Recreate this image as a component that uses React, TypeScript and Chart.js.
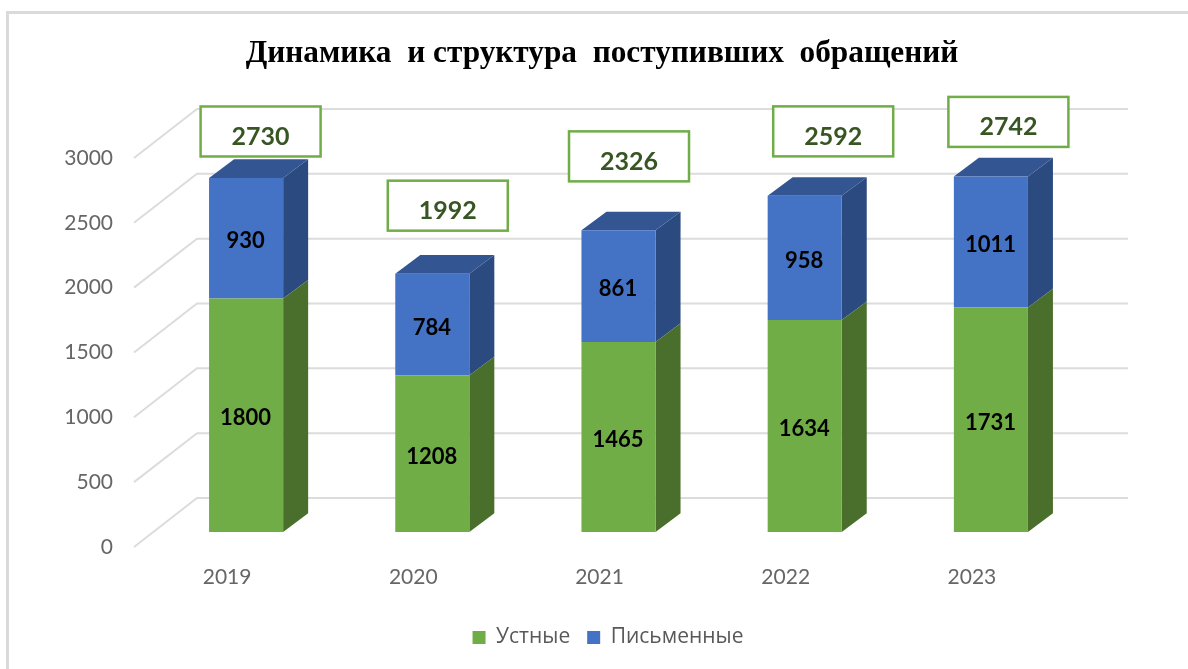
import React, { useEffect, useRef } from "react";
import { Chart, registerables } from "chart.js";

Chart.register(...registerables);

const categories = ["2019", "2020", "2021", "2022", "2023"];
const oralValues = [1800, 1208, 1465, 1634, 1731];
const writtenValues = [930, 784, 861, 958, 1011];
const totalValues = [2730, 1992, 2326, 2592, 2742];

// Callout placement relative to the top of each column (the reference places them by hand).
const calloutShiftX = [14.5, 15.5, 10.5, 28.5, 17.5];
const calloutShiftY = [-46.5, -68, -74, -64.5, -54.5];

// Oblique projection of the 3D chart
const WALL_DX = 63;
const WALL_DY = -49;
const BAR_OFFSET_X = 19;
const BAR_OFFSET_Y = -15;
const BAR_DEPTH_X = 25;
const BAR_DEPTH_Y = -18.7;
const LEGEND_SHIFT = 6;

const frontColors = ["#70AD47", "#4472C4"];
const sideColors = ["#4A6F2C", "#2B4A80"];
const TOP_COLOR = "#335591";
const TOP_DATASET = 1;

const LABEL_FONT = "Lato";

const bar3d = {
  id: "bar3d",
  afterLayout(chart: any) {
    chart.legend.left += LEGEND_SHIFT;
    chart.legend.right += LEGEND_SHIFT;
  },
  beforeDatasetsDraw(chart: any) {
    const { ctx, chartArea, scales } = chart;
    const y = scales.y;
    ctx.save();
    ctx.strokeStyle = "#DCDCDC";
    ctx.lineWidth = 2;
    y.ticks.forEach((t: any) => {
      const py = y.getPixelForValue(t.value);
      ctx.beginPath();
      ctx.moveTo(chartArea.left, py);
      ctx.lineTo(chartArea.left + WALL_DX, py + WALL_DY);
      ctx.lineTo(chartArea.right + WALL_DX, py + WALL_DY);
      ctx.stroke();
    });
    ctx.restore();
  },
  beforeDatasetDraw(chart: any, args: any) {
    const { ctx } = chart;
    const idx = args.index;
    const meta = chart.getDatasetMeta(idx);
    ctx.save();
    ctx.translate(BAR_OFFSET_X, BAR_OFFSET_Y);
    meta.data.forEach((bar: any) => {
      const p = bar.getProps(["x", "y", "base", "width"], true);
      const right = p.x + p.width / 2;
      const left = p.x - p.width / 2;
      ctx.fillStyle = sideColors[idx];
      ctx.beginPath();
      ctx.moveTo(right, p.base);
      ctx.lineTo(right + BAR_DEPTH_X, p.base + BAR_DEPTH_Y);
      ctx.lineTo(right + BAR_DEPTH_X, p.y + BAR_DEPTH_Y);
      ctx.lineTo(right, p.y);
      ctx.closePath();
      ctx.fill();
      if (idx === TOP_DATASET) {
        ctx.fillStyle = TOP_COLOR;
        ctx.beginPath();
        ctx.moveTo(left, p.y);
        ctx.lineTo(left + BAR_DEPTH_X, p.y + BAR_DEPTH_Y);
        ctx.lineTo(right + BAR_DEPTH_X, p.y + BAR_DEPTH_Y);
        ctx.lineTo(right, p.y);
        ctx.closePath();
        ctx.fill();
      }
    });
  },
  afterDatasetDraw(chart: any) {
    chart.ctx.restore();
  },
  afterDatasetsDraw(chart: any) {
    const { ctx } = chart;
    ctx.save();
    ctx.textAlign = "center";
    ctx.textBaseline = "middle";
    ctx.font = `bold 22px ${LABEL_FONT}`;
    ctx.fillStyle = "#000000";
    [0, 1].forEach((idx) => {
      chart.getDatasetMeta(idx).data.forEach((bar: any, i: number) => {
        const p = bar.getProps(["x", "y", "base"], true);
        const value = chart.data.datasets[idx].data[i];
        ctx.fillText(String(value), p.x + BAR_OFFSET_X - 0.5, (p.y + p.base) / 2 + BAR_OFFSET_Y + 3);
      });
    });
    const boxW = 120;
    const boxH = 50;
    chart.getDatasetMeta(1).data.forEach((bar: any, i: number) => {
      const p = bar.getProps(["x", "y"], true);
      const cx = p.x + BAR_OFFSET_X + calloutShiftX[i];
      const cy = p.y + BAR_OFFSET_Y + calloutShiftY[i];
      ctx.fillStyle = "#FFFFFF";
      ctx.strokeStyle = "#70AD47";
      ctx.lineWidth = 2.5;
      ctx.fillRect(cx - boxW / 2, cy - boxH / 2, boxW, boxH);
      ctx.strokeRect(cx - boxW / 2, cy - boxH / 2, boxW, boxH);
      ctx.fillStyle = "#375623";
      ctx.font = `bold 25px ${LABEL_FONT}`;
      ctx.fillText(String(totalValues[i]), cx, cy + 5.5);
    });
    ctx.restore();
  },
};

export default function App() {
  const ref = useRef<HTMLCanvasElement>(null);
  useEffect(() => {
    if (!ref.current) return;
    const chart = new Chart(ref.current, {
      type: "bar",
      plugins: [bar3d],
      data: {
        labels: categories,
        datasets: [
          { label: "Устные", data: oralValues, backgroundColor: frontColors[0], stack: "a", yAxisID: "y" },
          { label: "Письменные", data: writtenValues, backgroundColor: frontColors[1], stack: "a", yAxisID: "y" },
        ],
      },
      options: {
        responsive: false,
        animation: false,
        events: [],
        layout: { padding: { left: 16, right: 0, top: 0, bottom: 11 } },
        datasets: { bar: { categoryPercentage: 1, barPercentage: 74 / 186 } },
        plugins: {
          tooltip: { enabled: false },
          title: {
            display: true,
            text: "Динамика  и структура  поступивших  обращений",
            color: "#000000",
            font: { family: "Liberation Serif", size: 31.3, weight: "bold", lineHeight: 1.2 },
            padding: { top: 35.2, bottom: 85.2 },
          },
          legend: {
            position: "bottom",
            labels: {
              color: "#595959",
              boxWidth: 13,
              boxHeight: 13,
              padding: 17,
              font: { family: "Open Sans", size: 21 },
            },
          },
        },
        scales: {
          x: {
            stacked: true,
            grid: { display: false, drawTicks: false },
            border: { display: false },
            ticks: { color: "#666666", padding: 18, font: { family: LABEL_FONT, size: 21 }, maxRotation: 0 },
            afterFit: (s: any) => { s.height = 63; },
          },
          y: {
            stacked: true,
            min: 0,
            max: 3000,
            position: "left",
            grid: { display: false, drawTicks: false },
            border: { display: false },
            ticks: {
              stepSize: 500,
              color: "#666666",
              padding: 21,
              font: { family: LABEL_FONT, size: 21 },
              callback: (v: any) => String(v),
            },
            afterFit: (s: any) => { s.width = 118; },
          },
          yRightSpace: {
            type: "linear",
            position: "right",
            grid: { display: false, drawTicks: false },
            border: { display: false },
            ticks: { display: false },
            afterFit: (s: any) => { s.width = 123; },
          },
        },
      },
    } as any);
    return () => chart.destroy();
  }, []);
  return (
    <div style={{ position: "fixed", left: 0, top: 0, width: 1188, height: 669, background: "#FFFFFF", overflow: "hidden" }}>
      <div
        style={{
          position: "absolute",
          left: 6,
          top: 11,
          right: 0,
          bottom: 0,
          borderLeft: "3px solid #DADADA",
          borderTop: "3px solid #DADADA",
        }}
      />
      <canvas ref={ref} width={1188} height={669} style={{ position: "absolute", left: 0, top: 0, display: "block" }} />
    </div>
  );
}
